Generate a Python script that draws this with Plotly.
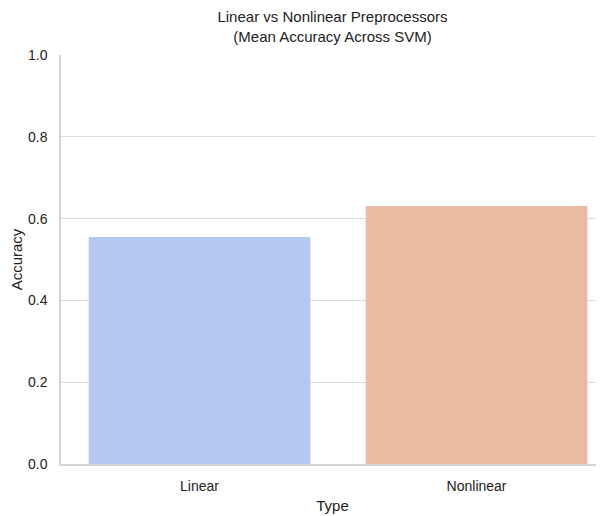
import plotly.graph_objects as go

categories = ["Linear", "Nonlinear"]
accuracy = [0.555, 0.631]
bar_colors = ["#b4c9f2", "#ebbaa2"]
y_ticks = [0.0, 0.2, 0.4, 0.6, 0.8, 1.0]
y_tick_labels = ["0.0", "0.2", "0.4", "0.6", "0.8", "1.0"]

fig = go.Figure(go.Bar(
    x=categories, y=accuracy, marker=dict(color=bar_colors, line=dict(width=0)),
    width=0.8,
))

font = "Liberation Sans, Arial, sans-serif"
W, H = 596, 508
L, T, B = 53, 47, 52
fig.update_layout(
    width=W, height=H,
    margin=dict(l=L, r=0, t=T, b=B, pad=0),
    plot_bgcolor="white", paper_bgcolor="white",
    font=dict(family=font, color="#222222", size=14),
    title=dict(
        text="Linear vs Nonlinear Preprocessors<br>(Mean Accuracy Across SVM)",
        x=(L + W) / 2 / W, xanchor="center", y=1 - 14 / H, yanchor="top",
        font=dict(size=15, family=font, color="#222222"),
    ),
    showlegend=False,
)
fig.update_xaxes(
    range=[-0.5, 1.46], showgrid=False, showline=True, linecolor="#d5d5d5", linewidth=1.5,
    ticks="", ticklabelstandoff=8, title=dict(text="Type", font=dict(size=15), standoff=8),
    tickfont=dict(size=14),
)
fig.update_yaxes(
    range=[0, 1.0], tickvals=y_ticks, ticktext=y_tick_labels,
    showgrid=True, gridcolor="#dcdcdc", gridwidth=1,
    showline=True, linecolor="#d5d5d5", linewidth=1.5, zeroline=False,
    ticks="", ticklabelstandoff=9, title=dict(text="Accuracy", font=dict(size=15), standoff=8),
    tickfont=dict(size=14),
)
fig.write_html("out.html")
